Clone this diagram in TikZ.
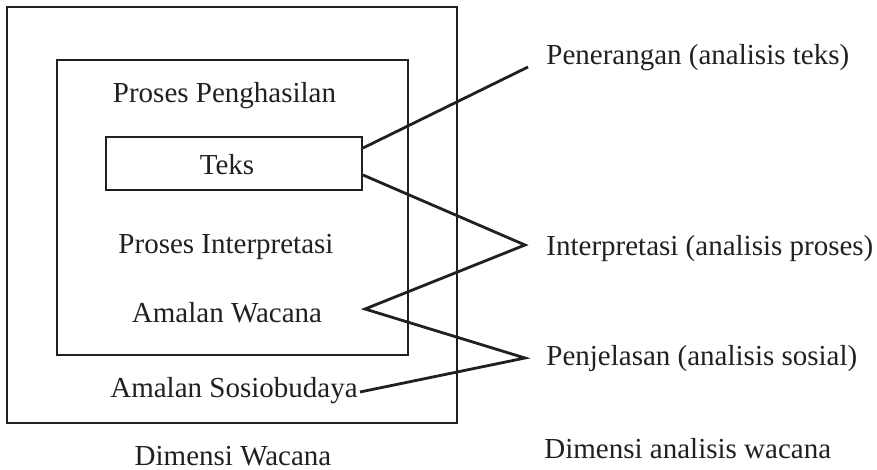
\documentclass[tikz,border=0pt]{standalone}
\usepackage{fontspec}
\setmainfont{Liberation Serif}
\definecolor{ink}{HTML}{231F20}
\begin{document}
\begin{tikzpicture}[x=1pt,y=-1pt, line width=2.8pt, draw=ink,
  lbl/.style={font=\fontsize{29}{34}\selectfont, inner sep=0pt, text=ink, anchor=base},
  rlbl/.style={lbl, anchor=base west},
  frame/.style={draw=ink, inner sep=0pt, line width=2.8pt},
  link/.style={draw=ink, line width=2.8pt, line join=miter}]
\useasboundingbox (0,0) rectangle (877,470);
% boxes
\node[frame, minimum width=450pt, minimum height=416pt] (outer) at (232,215) {};
\node[frame, minimum width=351pt, minimum height=295pt] (inner) at (232.5,207.5) {};
\node[frame, minimum width=256pt, minimum height=53pt] (tb) at (234,163.5) {};
% left texts
\node[lbl] (pp) at (224.5,103) {Proses Penghasilan};
\node[lbl] (teks) at (227,175) {Teks};
\node[lbl] (pi) at (226,253) {Proses Interpretasi};
\node[lbl] (aw) at (227,322) {Amalan Wacana};
\node[lbl] (as) at (234,397) {Amalan Sosiobudaya};
\node[lbl] (dw) at (233,465) {Dimensi Wacana};
% right texts
\node[rlbl] (pen) at (545,65) {Penerangan (analisis teks)};
\node[rlbl] (int) at (545,255) {Interpretasi (analisis proses)};
\node[rlbl] (pjl) at (545,365) {Penjelasan (analisis sosial)};
\node[rlbl] (daw) at (543,458) {Dimensi analisis wacana};
% connector points
\coordinate (t1) at (363,148);
\coordinate (t2) at (363,175);
\coordinate (p1) at (528,67);
\coordinate (i1) at (525,245);
\coordinate (a1) at (365,309);
\coordinate (j1) at (525,358);
\coordinate (s1) at (360,392);
% connectors
\draw[link] (t1) -- (p1);
\draw[link] (t2) -- (i1) -- (a1) -- (j1) -- (s1);
\end{tikzpicture}
\end{document}
